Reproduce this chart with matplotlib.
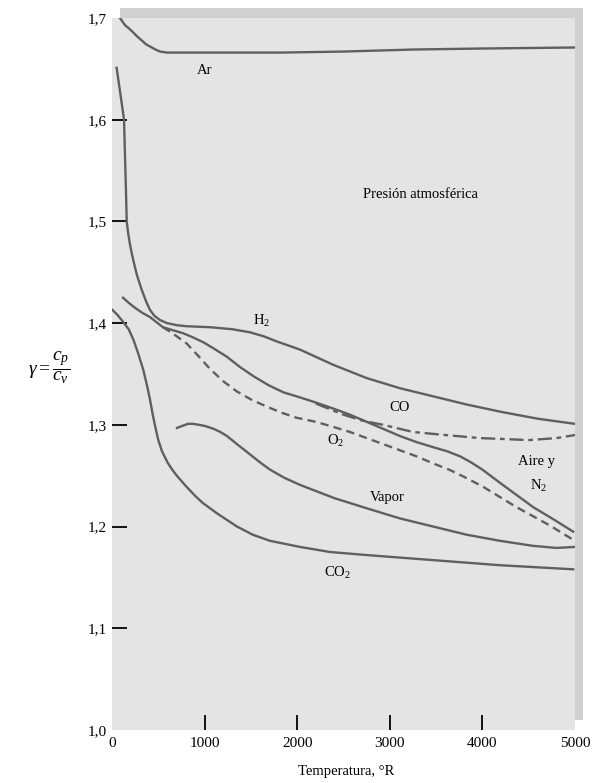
import matplotlib
matplotlib.use('Agg')
import matplotlib.pyplot as plt
from matplotlib.patches import Rectangle

plt.rcParams['font.family'] = ['Liberation Serif', 'DejaVu Serif']
plt.rcParams['mathtext.fontset'] = 'custom'
plt.rcParams['mathtext.rm'] = 'Liberation Serif'
plt.rcParams['mathtext.it'] = 'Liberation Serif:italic'

# curve readings: temperature (R) and gamma
ar_T = [86, 110, 140, 180, 227, 270, 320, 370, 410, 470, 520, 594, 1000, 1814, 2500, 3250, 4000, 5000]
ar_g = [1.700, 1.697, 1.693, 1.690, 1.686, 1.682, 1.678, 1.674, 1.672, 1.669, 1.667, 1.666,
        1.666, 1.666, 1.667, 1.669, 1.670, 1.671]

h2_T = [50, 80, 110, 130, 140, 150, 159, 175, 195, 215, 240, 270, 320, 370, 410, 460, 520,
        594, 700, 800, 1058, 1300, 1490, 1640, 1780, 2030, 2390, 2750, 3110, 3470, 3830,
        4190, 4600, 5000]
h2_g = [1.651, 1.632, 1.613, 1.600, 1.566, 1.533, 1.500, 1.488, 1.477, 1.468, 1.458, 1.447,
        1.433, 1.421, 1.413, 1.407, 1.403, 1.400, 1.398, 1.397, 1.396, 1.394, 1.391, 1.387,
        1.382, 1.374, 1.359, 1.346, 1.336, 1.328, 1.320, 1.313, 1.306, 1.301]

air_T = [119, 180, 250, 330, 410, 480, 550, 660, 770, 875, 990, 1100, 1240, 1380, 1525,
         1690, 1850, 2030, 2200, 2390, 2570, 2750, 2930, 3110, 3290, 3470, 3620, 3760, 3880,
         4000, 4190, 4370, 4550, 4770, 4980]
air_g = [1.425, 1.420, 1.415, 1.410, 1.406, 1.401, 1.396, 1.393, 1.390, 1.386, 1.381,
         1.375, 1.367, 1.357, 1.348, 1.339, 1.332, 1.327, 1.322, 1.316, 1.310, 1.303, 1.296,
         1.289, 1.283, 1.278, 1.274, 1.269, 1.263, 1.256, 1.243, 1.231, 1.219, 1.207, 1.195]

o2_T = [550, 620, 700, 806, 930, 1058, 1200, 1346, 1500, 1670, 1830, 1994, 2200, 2390,
        2570, 2750, 2930, 3110, 3290, 3470, 3640, 3800, 4010, 4190, 4370, 4550, 4730, 4980]
o2_g = [1.396, 1.392, 1.387, 1.380, 1.368, 1.355, 1.343, 1.333, 1.325, 1.318, 1.312,
        1.307, 1.303, 1.298, 1.293, 1.287, 1.281, 1.275, 1.269, 1.262, 1.256, 1.249, 1.239,
        1.229, 1.219, 1.210, 1.201, 1.187]

co_T = [2200, 2500, 2710, 2930, 3250, 3600, 3970, 4250, 4500, 4800, 5000]
co_g = [1.321, 1.310, 1.304, 1.300, 1.293, 1.290, 1.287, 1.286, 1.285, 1.287, 1.290]

vap_T = [702, 760, 820, 875, 940, 1000, 1100, 1170, 1242, 1350, 1490, 1600, 1706, 1860,
         2030, 2200, 2400, 2750, 3110, 3470, 3830, 4190, 4550, 4800, 5000]
vap_g = [1.297, 1.299, 1.301, 1.301, 1.300, 1.299, 1.296, 1.293, 1.289, 1.281, 1.271,
         1.263, 1.256, 1.248, 1.241, 1.235, 1.228, 1.218, 1.208, 1.200, 1.192, 1.186, 1.181,
         1.179, 1.180]

co2_T = [5, 60, 122, 180, 230, 280, 338, 380, 410, 440, 470, 500, 540, 600, 650, 700, 806,
         900, 983, 1134, 1350, 1520, 1706, 2030, 2354, 2750, 3470, 4190, 4980]
co2_g = [1.413, 1.408, 1.401, 1.394, 1.384, 1.371, 1.354, 1.338, 1.325, 1.310, 1.297,
         1.285, 1.274, 1.263, 1.256, 1.250, 1.239, 1.230, 1.223, 1.213, 1.200, 1.192, 1.186,
         1.180, 1.175, 1.172, 1.167, 1.162, 1.158]

xticks = [0, 1000, 2000, 3000, 4000, 5000]
yticks = [1.0, 1.1, 1.2, 1.3, 1.4, 1.5, 1.6, 1.7]
ylabels = ['1,0', '1,1', '1,2', '1,3', '1,4', '1,5', '1,6', '1,7']

W, H = 595, 783
fig = plt.figure(figsize=(W / 100, H / 100), dpi=100)

# darker frame strips (top and right) behind the plot
fig.add_artist(Rectangle((120 / W, 1 - 18 / H), (583 - 120) / W, 10 / H,
                         transform=fig.transFigure, color='#d0d0d0', lw=0, zorder=0))
fig.add_artist(Rectangle((575 / W, 1 - 720 / H), 8 / W, (720 - 8) / H,
                         transform=fig.transFigure, color='#d0d0d0', lw=0, zorder=0))

ax = fig.add_axes([112 / W, 1 - 730 / H, (575 - 112) / W, (730 - 18) / H])
ax.set_facecolor('#e4e4e4')
for s in ax.spines.values():
    s.set_visible(False)

lc = '#5f5f5f'
lw = 1.7
ax.plot(ar_T, ar_g, color=lc, lw=lw)
ax.plot(h2_T, h2_g, color=lc, lw=lw)
ax.plot(air_T, air_g, color=lc, lw=lw)
ax.plot(o2_T, o2_g, color=lc, lw=lw, dashes=(3.5, 2.2))
ax.plot(co_T, co_g, color=lc, lw=lw, dashes=(6, 2, 2, 2))
ax.plot(vap_T, vap_g, color=lc, lw=lw)
ax.plot(co2_T, co2_g, color=lc, lw=lw)

ax.set_xlim(0, 5000)
ax.set_ylim(1.0, 1.7)

ax.set_xticks(xticks)
ax.set_xticklabels([str(t) for t in xticks])
ax.set_yticks(yticks)
ax.set_yticklabels(ylabels)
ax.tick_params(direction='in', length=11, width=1.3, color='black', labelsize=11)
# no tick marks at the axis ends, only labels
for tk in [ax.xaxis.get_major_ticks()[0], ax.xaxis.get_major_ticks()[-1],
           ax.yaxis.get_major_ticks()[0], ax.yaxis.get_major_ticks()[-1]]:
    tk.tick1line.set_visible(False)
ax.tick_params(axis='x', pad=5)
ax.tick_params(axis='y', pad=4)

ts = 10.5
fig.text(205 / W, 1 - 70 / H, 'Ar', fontsize=ts, ha='center', va='center')
fig.text(420 / W, 1 - 195 / H, 'Presión atmosférica', fontsize=ts, ha='center', va='center')
fig.text(262 / W, 1 - 321 / H, r'H$_2$', fontsize=ts, ha='center', va='center')
fig.text(400 / W, 1 - 408 / H, 'CO', fontsize=ts, ha='center', va='center')
fig.text(336 / W, 1 - 441 / H, r'O$_2$', fontsize=ts, ha='center', va='center')
fig.text(537 / W, 1 - 462 / H, 'Aire y', fontsize=ts, ha='center', va='center')
fig.text(539 / W, 1 - 486 / H, r'N$_2$', fontsize=ts, ha='center', va='center')
fig.text(387 / W, 1 - 497 / H, 'Vapor', fontsize=ts, ha='center', va='center')
fig.text(337 / W, 1 - 573 / H, r'CO$_2$', fontsize=ts, ha='center', va='center')

fig.text(49 / W, 1 - 368 / H, r'$\gamma = \dfrac{c_p}{c_v}$', fontsize=14,
         ha='center', va='center')
fig.text(346 / W, 1 - 772 / H, 'Temperatura, °R', fontsize=ts, ha='center', va='center')

fig.savefig('out.png', dpi=100)
